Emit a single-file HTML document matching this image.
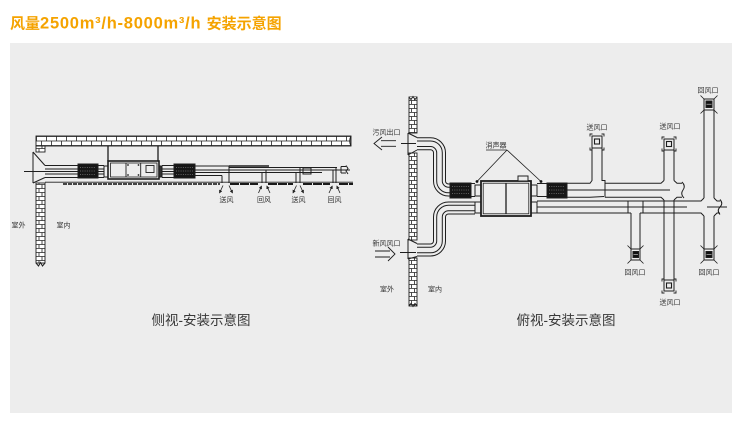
<!DOCTYPE html>
<html><head><meta charset="utf-8">
<style>
html,body{margin:0;padding:0;background:#fff;}
body{width:740px;height:430px;overflow:hidden;position:relative}
svg{display:block;position:absolute;left:0;top:0}
</style></head><body>
<svg width="740" height="430" viewBox="0 0 740 430" xmlns="http://www.w3.org/2000/svg" font-family="'Liberation Sans','Noto Sans CJK SC',sans-serif">
<defs>
 <pattern id="hb" x="36" y="136" width="10" height="10" patternUnits="userSpaceOnUse">
  <rect width="10" height="10" fill="#fff"/>
  <path d="M0 0.5H10M0 5H10M0 9.5H10M0.5 0.5V5M5.5 5V9.5" stroke="#222" stroke-width="0.8" fill="none"/>
 </pattern>
 <pattern id="vbl" x="36" y="0" width="9" height="8" patternUnits="userSpaceOnUse">
  <rect width="9" height="8" fill="#fff"/>
  <path d="M0 0.5H9M0 4.5H9M6 0.5V4.5M3 4.5V8.5" stroke="#222" stroke-width="0.8" fill="none"/>
 </pattern>
 <pattern id="vbr" x="409" y="0" width="8" height="8" patternUnits="userSpaceOnUse">
  <rect width="8" height="8" fill="#fff"/>
  <path d="M0 0.5H8M0 4.5H8M5.5 0.5V4.5M2.5 4.5V8.5" stroke="#222" stroke-width="0.8" fill="none"/>
 </pattern>
 <marker id="ah" viewBox="0 0 6 6" refX="5" refY="3" markerWidth="3.5" markerHeight="3.5" orient="auto" markerUnits="userSpaceOnUse"><path d="M0,0 L6,3 L0,6 z" fill="#222"/></marker>
</defs>

<!-- title -->
<text x="10" y="28.5" font-size="15" font-weight="bold" fill="#f5a300">风量<tspan font-size="16.5" letter-spacing="0.75">2500m³/h-8000m³/h </tspan>安装示意图</text>

<!-- panel -->
<rect x="10" y="43" width="722" height="370" fill="#ededed"/>

<!-- ================= LEFT: side view ================= -->
<g stroke="#1e1e1e" stroke-width="1" fill="none">
 <!-- ceiling -->
 <rect x="36" y="136" width="315" height="10" fill="url(#hb)" stroke-width="0.9"/>
 <path d="M351,136 Q348.5,141 351,146" />
 <!-- wall -->
 <rect x="36" y="146" width="9" height="6" fill="url(#vbl)" stroke-width="0.9"/>
 <rect x="36" y="183" width="9" height="80" fill="url(#vbl)" stroke-width="0.9"/>
 <path d="M36,263 L38.5,266 L40.5,262.5 L42.5,266 L45,263"/>
 <!-- flange -->
 <path d="M33,152 V183 M33,152 L45,165.5 M33,183 L45,177.5"/>
 <!-- duct wall->unit -->
 <path d="M45,165.5H104 M45,177.5H104 M45,169H104 M45,174H104"/>
 <path d="M24,171.5H104" stroke-width="0.9"/>
 <!-- filter 1 -->
 <rect x="78" y="164" width="20" height="14" fill="#161616"/>
 <path d="M80,167.5H96 M80,171H96 M80,174.5H96" stroke="#aaa" stroke-width="0.5" stroke-dasharray="1 1.3"/>
 <!-- collar -->
 <rect x="104" y="166" width="4" height="11" fill="#ededed"/>
 <!-- hangers -->
 <path d="M108,146V161 M158,146V161" stroke-width="1.3"/>
 <!-- unit -->
 <rect x="108" y="161" width="51" height="18" stroke-width="1.6" fill="#ededed"/>
 <rect x="110.5" y="163" width="46.5" height="14" stroke-width="0.8"/>
 <path d="M126,163V177 M140.7,163V177" stroke-width="0.9"/>
 <rect x="146" y="165.5" width="8" height="7" stroke-width="0.9"/>
 <g fill="#222" stroke="none">
  <circle cx="128" cy="165" r="0.9"/><circle cx="138.5" cy="165" r="0.9"/>
  <circle cx="128" cy="175" r="0.9"/><circle cx="138.5" cy="175" r="0.9"/>
 </g>
 <rect x="159" y="166" width="3" height="11" fill="#333"/>
 <!-- duct unit->filter2 -->
 <path d="M162,165.5H174 M162,177.5H174 M162,169H174 M162,174H174 M162,171.5H174"/>
 <rect x="174" y="164" width="21" height="14" fill="#161616"/>
 <path d="M176,167.5H193 M176,171H193 M176,174.5H193" stroke="#aaa" stroke-width="0.5" stroke-dasharray="1 1.3"/>
 <!-- branch ducts -->
 <path d="M195,166H229"/>
 <path d="M229,166H269" stroke-width="1.6"/>
 <path d="M229,167.5H337 M195,170H350 M195,172.5H322 M195,175.5H222"/>
 <path d="M222,175.5V183 M229,166V183 M262,172.5V183 M266,170V183 M296,172.5V183 M300,167.5V183 M333,170V183 M336,167.5V183"/>
 <rect x="303" y="168" width="8" height="6"/>
 <path d="M341,166.5H346 M341,173H346 M341,166.5V173 M346,165.5 L348,168.5 L346,171 L348,174"/>
 <!-- ceiling lines -->
 <path d="M45,182.2H353" stroke-width="0.8"/>
 <path d="M63,184H220" stroke="#444" stroke-width="1.9" stroke-dasharray="4 1"/>
 <path d="M230,184H258 M268,184H293 M303,184H330 M339,184H353" stroke="#1a1a1a" stroke-width="1.9" stroke-dasharray="9 1"/>
 <!-- vent arrows -->
 <g stroke-width="0.8" marker-end="url(#ah)">
  <line x1="223" y1="185.5" x2="219.5" y2="193"/>
  <line x1="229" y1="185.5" x2="232.5" y2="193"/>
  <line x1="258.5" y1="193" x2="261.5" y2="186"/>
  <line x1="270" y1="193" x2="266.8" y2="186"/>
  <line x1="296.5" y1="185.5" x2="293" y2="193"/>
  <line x1="300" y1="185.5" x2="303.5" y2="193"/>
  <line x1="329" y1="193" x2="332.3" y2="186"/>
  <line x1="340" y1="193" x2="336.8" y2="186"/>
 </g>
</g>
<g font-size="7" fill="#333" text-anchor="middle">
 <text x="226.5" y="201.8">送风</text>
 <text x="264" y="201.8">回风</text>
 <text x="298.5" y="201.8">送风</text>
 <text x="334.5" y="201.8">回风</text>
 <text x="18.5" y="227.5">室外</text>
 <text x="63.5" y="227.5">室内</text>
</g>
<text x="201" y="325" font-size="13.5" fill="#383838" text-anchor="middle">侧视-安装示意图</text>

<!-- ================= RIGHT: top view ================= -->
<g stroke="#1e1e1e" stroke-width="1" fill="none">
 <!-- wall -->
 <rect x="409" y="97" width="8" height="36" fill="url(#vbr)" stroke-width="0.9"/>
 <path d="M409,97 L411,99.5 L413,96.5 L415,99.5 L417,97" fill="#ededed"/>
 <rect x="409" y="153" width="8" height="87" fill="url(#vbr)" stroke-width="0.9"/>
 <rect x="409" y="258" width="8" height="48" fill="url(#vbr)" stroke-width="0.9"/>
 <path d="M409,306 L411,303.5 L413,306.5 L415,303.5 L417,306"/>
 <!-- flanges -->
 <path d="M408,133 V155 M408,133 L417,137.5 M408,155 L417,150"/>
 <path d="M408,239 V259 M408,239 L417,243.5 M408,259 L417,256.5"/>
 <!-- axis + arrows -->
 <path d="M401,143.5H417 M400,252.5H417" stroke-width="0.9"/>
 <path d="M396,140.7H381 M396,146.3H381 M382,137 L374,143.5 L382,150" stroke-width="0.9"/>
 <path d="M375,251H390 M375,257H390 M388,247 L395,254 L388,261" stroke-width="0.9"/>
</g>
<!-- curved ducts (tube technique) -->
<g fill="none">
 <path id="exh" d="M417,143.75 H430.5 A9,9 0 0 1 439.5,152.75 V181 A9,9 0 0 0 448.5,190 H451" stroke="#1e1e1e" stroke-width="13"/>
 <path d="M416,143.75 H430.5 A9,9 0 0 1 439.5,152.75 V181 A9,9 0 0 0 448.5,190 H452" stroke="#ededed" stroke-width="11"/>
 <path d="M417,143.75 H430.5 A9,9 0 0 1 439.5,152.75 V181 A9,9 0 0 0 448.5,190 H451" stroke="#1e1e1e" stroke-width="6.6"/>
 <path d="M416,143.75 H430.5 A9,9 0 0 1 439.5,152.75 V181 A9,9 0 0 0 448.5,190 H452" stroke="#ededed" stroke-width="4.6"/>

 <path d="M475,208 H448.5 A9,9 0 0 0 439.5,217 V241 A9,9 0 0 1 430.5,250 H417" stroke="#1e1e1e" stroke-width="13"/>
 <path d="M476,208 H448.5 A9,9 0 0 0 439.5,217 V241 A9,9 0 0 1 430.5,250 H416" stroke="#ededed" stroke-width="11"/>
 <path d="M475,208 H448.5 A9,9 0 0 0 439.5,217 V241 A9,9 0 0 1 430.5,250 H417" stroke="#1e1e1e" stroke-width="6.6"/>
 <path d="M476,208 H448.5 A9,9 0 0 0 439.5,217 V241 A9,9 0 0 1 430.5,250 H416" stroke="#ededed" stroke-width="4.6"/>
</g>
<g stroke="#1e1e1e" stroke-width="1" fill="none">
 <!-- left filter -->
 <rect x="450" y="183" width="21" height="15" fill="#161616"/>
 <path d="M452,186.5H469 M452,190H469 M452,193.5H469" stroke="#aaa" stroke-width="0.5" stroke-dasharray="1 1.3"/>
 <path d="M471,183.5H475 M471,196.5H475"/>
 <!-- collars -->
 <rect x="475" y="185" width="6" height="11" fill="#ededed"/>
 <rect x="475" y="202" width="6" height="11" fill="#ededed"/>
 <rect x="531" y="185" width="6" height="11" fill="#ededed"/>
 <rect x="531" y="202" width="6" height="11" fill="#ededed"/>
 <!-- unit -->
 <rect x="481" y="181" width="50" height="35" stroke-width="1.8" fill="#ededed"/>
 <rect x="483.2" y="183.2" width="45.6" height="30.6" stroke-width="0.8"/>
 <path d="M506,183V214" stroke-width="1.3"/>
 <rect x="518" y="176" width="10" height="5" fill="#ededed"/>
 <!-- right filter -->
 <path d="M537,183.5H547 M537,196.5H547"/>
 <rect x="547" y="183" width="20" height="15" fill="#161616"/>
 <path d="M549,186.5H565 M549,190H565 M549,193.5H565" stroke="#aaa" stroke-width="0.5" stroke-dasharray="1 1.3"/>
 <!-- leader -->
 <path d="M507,150 L477,181.5 M507,150 L541,181.5 M486,150H507" stroke-width="0.8"/>
 <circle cx="477" cy="181.5" r="1.4" fill="#111" stroke="none"/>
 <circle cx="541" cy="181.5" r="1.4" fill="#111" stroke="none"/>

 <!-- upper duct -->
 <path d="M567,183.3 H590 L592,180.5 V148"/>
 <path d="M602,148 V180.5 H605 V197.3"/>
 <path d="M605,183.3 H661 L664,180.5"/>
 <path d="M567,197.3 H590 L604,196.5" />
 <path d="M605,197.3 H661 L664,200"/>
 <path d="M567,190 H670" stroke-width="0.9"/>
 <path d="M674,180.5 L677,183.3 H682 M674,200 L677,197.3 H682 M682,182 Q686,186 683,190 Q680,194 684,198"/>
 <!-- lower duct -->
 <path d="M537,201 H701 L704,198"/>
 <path d="M537,213 H631 M640,213 H701 L704,216"/>
 <path d="M628,201V213 M643,201V213"/>
 <path d="M537,207 H687 M707,207 H727" stroke-width="0.9"/>
 <path d="M714,198 L717,201 H720 M714,216 L717,213 H720 M720,199.5 Q723.5,203.5 720,207 Q716.5,210.5 720,214.5"/>
 <!-- branch down -->
 <path d="M631,213 V249 M640,213 V249"/>
 <!-- middle tall pipe -->
 <path d="M664,150 V180.5 M664,200 V280 M674,150 V180.5 M674,200 V280"/>
 <!-- right tall pipe -->
 <path d="M704,110 V198 M704,216 V249 M714,110 V198 M714,216 V249"/>

 <!-- 送风口 vents -->
 <rect x="592" y="136" width="10" height="12"/>
 <rect x="594.5" y="139" width="5" height="5" stroke-width="1.1"/>
 <path d="M590,136.5V134H592.5 M604,136.5V134H601.5 M590,147.5V150H592.5 M604,147.5V150H601.5" stroke-width="0.9"/>

 <rect x="664" y="139" width="10" height="11"/>
 <rect x="666.5" y="141.5" width="5" height="5" stroke-width="1.1"/>
 <path d="M662,139.5V137H664.5 M676,139.5V137H673.5 M662,148.5V151H664.5 M676,148.5V151H673.5" stroke-width="0.9"/>

 <rect x="664" y="280" width="10" height="11"/>
 <rect x="666.5" y="283" width="5" height="5" stroke-width="1.1"/>
 <path d="M662,281.5V279H664.5 M676,281.5V279H673.5 M662,290.5V293H664.5 M676,290.5V293H673.5" stroke-width="0.9"/>

 <!-- 回风口 vents -->
 <rect x="704" y="99" width="10" height="11"/>
 <rect x="706" y="101" width="6" height="6.5" fill="#111"/>
 <path d="M706.5,104.2H711.5" stroke="#ddd" stroke-width="0.6"/>
 <path d="M700.5,95.5 L704,99 M717.5,95.5 L714,99 M700.5,113.5 L704,110 M717.5,113.5 L714,110" stroke-width="0.8"/>

 <rect x="704" y="249" width="10" height="11"/>
 <rect x="706" y="251.5" width="6" height="6" fill="#111"/>
 <path d="M706.5,254.5H711.5" stroke="#ddd" stroke-width="0.6"/>
 <path d="M700.5,245.5 L704,249 M717.5,245.5 L714,249 M700.5,263.5 L704,260 M717.5,263.5 L714,260" stroke-width="0.8"/>

 <rect x="631" y="249" width="9" height="11"/>
 <rect x="633" y="251.5" width="5.5" height="6" fill="#111"/>
 <path d="M633.5,254.5H638" stroke="#ddd" stroke-width="0.6"/>
 <path d="M627.5,245.5 L631,249 M643.5,245.5 L640,249 M627.5,263.5 L631,260 M643.5,263.5 L640,260" stroke-width="0.8"/>
</g>
<g font-size="7" fill="#333" text-anchor="middle">
 <text x="386.5" y="134.5">污风出口</text>
 <text x="386.5" y="245.5">新风风口</text>
 <text x="387" y="291.5">室外</text>
 <text x="435" y="291.5">室内</text>
 <text x="496" y="147.5">消声器</text>
 <text x="597" y="129.5">送风口</text>
 <text x="670" y="128.5">送风口</text>
 <text x="708" y="92.5">回风口</text>
 <text x="635" y="274.5">回风口</text>
 <text x="709" y="274.5">回风口</text>
 <text x="670" y="304.5">送风口</text>
</g>
<text x="566" y="325" font-size="13.5" fill="#383838" text-anchor="middle">俯视-安装示意图</text>
</svg>
</body></html>
